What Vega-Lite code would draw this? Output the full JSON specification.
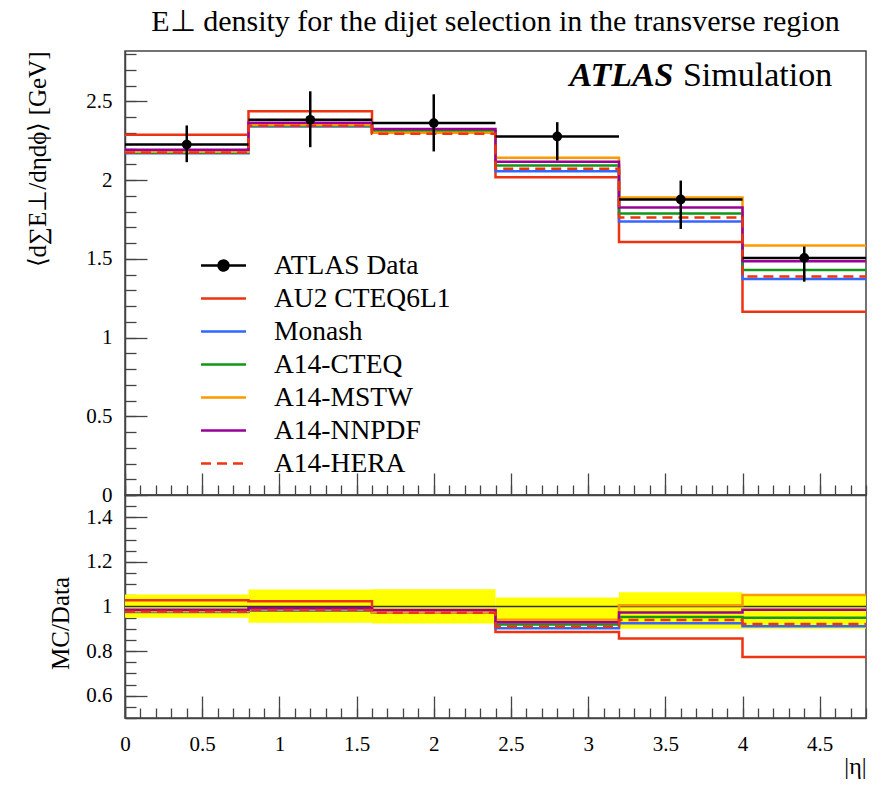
{
  "$schema": "https://vega.github.io/schema/vega-lite/v6.json",
  "background": "white",
  "padding": {"left": 24, "top": 6, "right": 4, "bottom": 0},
  "spacing": 0,
  "bounds": "flush",
  "config": {
    "font": "Liberation Serif",
    "view": {"stroke": "#444", "strokeWidth": 1.5},
    "axis": {
      "domainColor": "#444", "domainWidth": 1.5, "tickColor": "#444", "tickWidth": 1.3,
      "labelFont": "Liberation Serif", "labelFontSize": 21, "labelColor": "black",
      "titleFont": "Liberation Serif", "titleFontWeight": "normal", "titleFontSize": 25, "titleColor": "black",
      "grid": false, "tickCount": 200, "labelOverlap": false
    }
  },
  "datasets": {
    "data": [
      {"bin": 1, "x0": 0.0, "x1": 0.8, "xc": 0.4, "y": 2.226, "lo": 2.114, "hi": 2.347, "rlo": 0.950, "rhi": 1.054},
      {"bin": 2, "x0": 0.8, "x1": 1.6, "xc": 1.2, "y": 2.383, "lo": 2.209, "hi": 2.564, "rlo": 0.927, "rhi": 1.076},
      {"bin": 3, "x0": 1.6, "x1": 2.4, "xc": 2.0, "y": 2.362, "lo": 2.182, "hi": 2.545, "rlo": 0.924, "rhi": 1.077},
      {"bin": 4, "x0": 2.4, "x1": 3.2, "xc": 2.8, "y": 2.277, "lo": 2.125, "hi": 2.368, "rlo": 0.933, "rhi": 1.040},
      {"bin": 5, "x0": 3.2, "x1": 4.0, "xc": 3.6, "y": 1.877, "lo": 1.690, "hi": 1.997, "rlo": 0.900, "rhi": 1.064},
      {"bin": 6, "x0": 4.0, "x1": 4.8, "xc": 4.4, "y": 1.506, "lo": 1.355, "hi": 1.578, "rlo": 0.900, "rhi": 1.048}
    ],
    "mc": [
      {"series": "AU2 CTEQ6L1", "bin": 1, "x0": 0.0, "x1": 0.8, "y": 2.288, "r": 1.028},
      {"series": "AU2 CTEQ6L1", "bin": 2, "x0": 0.8, "x1": 1.6, "y": 2.438, "r": 1.023},
      {"series": "AU2 CTEQ6L1", "bin": 3, "x0": 1.6, "x1": 2.4, "y": 2.300, "r": 0.974},
      {"series": "AU2 CTEQ6L1", "bin": 4, "x0": 2.4, "x1": 3.2, "y": 2.018, "r": 0.886},
      {"series": "AU2 CTEQ6L1", "bin": 5, "x0": 3.2, "x1": 4.0, "y": 1.607, "r": 0.856},
      {"series": "AU2 CTEQ6L1", "bin": 6, "x0": 4.0, "x1": 4.8, "y": 1.164, "r": 0.773},
      {"series": "Monash", "bin": 1, "x0": 0.0, "x1": 0.8, "y": 2.170, "r": 0.975},
      {"series": "Monash", "bin": 2, "x0": 0.8, "x1": 1.6, "y": 2.340, "r": 0.982},
      {"series": "Monash", "bin": 3, "x0": 1.6, "x1": 2.4, "y": 2.300, "r": 0.974},
      {"series": "Monash", "bin": 4, "x0": 2.4, "x1": 3.2, "y": 2.057, "r": 0.903},
      {"series": "Monash", "bin": 5, "x0": 3.2, "x1": 4.0, "y": 1.737, "r": 0.925},
      {"series": "Monash", "bin": 6, "x0": 4.0, "x1": 4.8, "y": 1.372, "r": 0.911},
      {"series": "A14-CTEQ", "bin": 1, "x0": 0.0, "x1": 0.8, "y": 2.175, "r": 0.977},
      {"series": "A14-CTEQ", "bin": 2, "x0": 0.8, "x1": 1.6, "y": 2.345, "r": 0.984},
      {"series": "A14-CTEQ", "bin": 3, "x0": 1.6, "x1": 2.4, "y": 2.310, "r": 0.978},
      {"series": "A14-CTEQ", "bin": 4, "x0": 2.4, "x1": 3.2, "y": 2.093, "r": 0.919},
      {"series": "A14-CTEQ", "bin": 5, "x0": 3.2, "x1": 4.0, "y": 1.788, "r": 0.953},
      {"series": "A14-CTEQ", "bin": 6, "x0": 4.0, "x1": 4.8, "y": 1.429, "r": 0.949},
      {"series": "A14-MSTW", "bin": 1, "x0": 0.0, "x1": 0.8, "y": 2.180, "r": 0.979},
      {"series": "A14-MSTW", "bin": 2, "x0": 0.8, "x1": 1.6, "y": 2.350, "r": 0.986},
      {"series": "A14-MSTW", "bin": 3, "x0": 1.6, "x1": 2.4, "y": 2.300, "r": 0.974},
      {"series": "A14-MSTW", "bin": 4, "x0": 2.4, "x1": 3.2, "y": 2.142, "r": 0.941},
      {"series": "A14-MSTW", "bin": 5, "x0": 3.2, "x1": 4.0, "y": 1.889, "r": 1.006},
      {"series": "A14-MSTW", "bin": 6, "x0": 4.0, "x1": 4.8, "y": 1.584, "r": 1.052},
      {"series": "A14-NNPDF", "bin": 1, "x0": 0.0, "x1": 0.8, "y": 2.193, "r": 0.985},
      {"series": "A14-NNPDF", "bin": 2, "x0": 0.8, "x1": 1.6, "y": 2.364, "r": 0.992},
      {"series": "A14-NNPDF", "bin": 3, "x0": 1.6, "x1": 2.4, "y": 2.325, "r": 0.984},
      {"series": "A14-NNPDF", "bin": 4, "x0": 2.4, "x1": 3.2, "y": 2.116, "r": 0.929},
      {"series": "A14-NNPDF", "bin": 5, "x0": 3.2, "x1": 4.0, "y": 1.826, "r": 0.973},
      {"series": "A14-NNPDF", "bin": 6, "x0": 4.0, "x1": 4.8, "y": 1.484, "r": 0.985},
      {"series": "A14-HERA", "bin": 1, "x0": 0.0, "x1": 0.8, "y": 2.175, "r": 0.977},
      {"series": "A14-HERA", "bin": 2, "x0": 0.8, "x1": 1.6, "y": 2.345, "r": 0.984},
      {"series": "A14-HERA", "bin": 3, "x0": 1.6, "x1": 2.4, "y": 2.295, "r": 0.972},
      {"series": "A14-HERA", "bin": 4, "x0": 2.4, "x1": 3.2, "y": 2.072, "r": 0.910},
      {"series": "A14-HERA", "bin": 5, "x0": 3.2, "x1": 4.0, "y": 1.762, "r": 0.939},
      {"series": "A14-HERA", "bin": 6, "x0": 4.0, "x1": 4.8, "y": 1.387, "r": 0.921}
    ]
  },
  "resolve": {"scale": {"color": "independent"}, "legend": {"color": "independent"}},
  "vconcat": [
    {
      "title": {"text": "E⊥ density for the dijet selection in the transverse region", "anchor": "middle", "fontSize": 30, "fontWeight": "normal", "font": "Liberation Serif", "color": "black", "offset": 14},
      "width": 741,
      "height": 444,
      "resolve": {"axis": {"x": "independent", "y": "independent"}},
      "layer": [
        {
          "data": {"name": "mc"},
          "transform": [{"fold": ["x0", "x1"], "as": ["edge", "x"]}],
          "mark": {"type": "line", "strokeWidth": 2.5},
          "encoding": {
            "x": {
              "field": "x", "type": "quantitative",
              "scale": {"domain": [0, 4.8], "nice": false, "zero": false},
              "axis": {
                "orient": "bottom",
                "values": [0, 0.5, 1, 1.5, 2, 2.5, 3, 3.5, 4, 4.5],
                "labels": false, "title": null, "tickSize": -22
              }
            },
            "y": {
              "field": "y", "type": "quantitative",
              "scale": {"domain": [0, 2.82], "nice": false},
              "title": "⟨d∑E⊥/dηdϕ⟩ [GeV]",
              "axis": {
                "orient": "left",
                "values": [0, 0.5, 1, 1.5, 2, 2.5],
                "format": "~g",
                "tickSize": -22,
                "labelPadding": 35,
                "titleAnchor": "end",
                "titlePadding": 35
              }
            },
            "color": {
              "field": "series", "type": "nominal",
              "scale": {
                "domain": ["ATLAS Data", "AU2 CTEQ6L1", "Monash", "A14-CTEQ", "A14-MSTW", "A14-NNPDF", "A14-HERA"],
                "range": ["black", "#ee3311", "#3366ff", "#109618", "#ff9900", "#990099", "#ee3311"]
              },
              "legend": {
                "title": null, "orient": "none", "legendX": 82, "legendY": 198, "padding": 0,
                "symbolType": "M-1.5,0L1.5,0", "symbolSize": 900, "symbolStrokeWidth": 2.5,
                "labelFont": "Liberation Serif", "labelFontSize": 27.5, "labelColor": "black", "labelOffset": 34,
                "rowPadding": 3, "labelLimit": 400,
                "encoding": {
                  "symbols": {
                    "shape": {"condition": {"test": "datum.value === 'ATLAS Data'", "value": "M-1.5,0L1.5,0M0.33,0A0.33,0.33,0,1,1,-0.33,0A0.33,0.33,0,1,1,0.33,0"}, "value": "M-1.5,0L1.5,0"},
                    "fill": {"condition": {"test": "datum.value === 'ATLAS Data'", "value": "black"}, "value": "transparent"},
                    "strokeDash": {"condition": {"test": "datum.value === 'A14-HERA'", "value": [10, 6]}, "value": [1, 0]}
                  }
                }
              }
            },
            "strokeDash": {"condition": {"test": "datum.series === 'A14-HERA'", "value": [10, 6]}, "value": [1, 0]},
            "order": [{"field": "bin", "type": "quantitative"}, {"field": "edge"}]
          }
        },
        {
          "data": {"name": "data"},
          "mark": {"type": "rule", "strokeWidth": 2.5, "color": "black"},
          "encoding": {
            "x": {
              "field": "x0", "type": "quantitative",
              "axis": {
                "orient": "bottom",
                "values": [0,0.1,0.2,0.3,0.4,0.5,0.6,0.7,0.8,0.9,1,1.1,1.2,1.3,1.4,1.5,1.6,1.7,1.8,1.9,2,2.1,2.2,2.3,2.4,2.5,2.6,2.7,2.8,2.9,3,3.1,3.2,3.3,3.4,3.5,3.6,3.7,3.8,3.9,4,4.1,4.2,4.3,4.4,4.5,4.6,4.7,4.8],
                "labels": false, "title": null, "tickSize": -10, "domain": false
              }
            },
            "x2": {"field": "x1"},
            "y": {
              "field": "y", "type": "quantitative",
              "axis": {
                "orient": "left",
                "values": [0,0.1,0.2,0.3,0.4,0.5,0.6,0.7,0.8,0.9,1,1.1,1.2,1.3,1.4,1.5,1.6,1.7,1.8,1.9,2,2.1,2.2,2.3,2.4,2.5,2.6,2.7,2.8],
                "labels": false, "title": null, "tickSize": -11, "domain": false
              }
            }
          }
        },
        {
          "data": {"name": "data"},
          "mark": {"type": "rule", "strokeWidth": 2.5, "color": "black"},
          "encoding": {
            "x": {"field": "xc", "type": "quantitative", "axis": null},
            "y": {"field": "lo", "type": "quantitative", "axis": null},
            "y2": {"field": "hi"}
          }
        },
        {
          "data": {"name": "data"},
          "mark": {"type": "point", "filled": true, "size": 95, "color": "black", "opacity": 1},
          "encoding": {
            "x": {"field": "xc", "type": "quantitative", "axis": null},
            "y": {"field": "y", "type": "quantitative", "axis": null}
          }
        },
        {
          "data": {"values": [{}]},
          "mark": {"type": "text", "align": "left", "baseline": "alphabetic", "fontSize": 34, "fontStyle": "italic", "fontWeight": "bold", "font": "Liberation Serif", "color": "black"},
          "encoding": {
            "x": {"datum": 2.88, "axis": null},
            "y": {"datum": 2.6, "axis": null},
            "text": {"value": "ATLAS"}
          }
        },
        {
          "data": {"values": [{}]},
          "mark": {"type": "text", "align": "left", "baseline": "alphabetic", "fontSize": 34, "font": "Liberation Serif", "color": "black"},
          "encoding": {
            "x": {"datum": 3.614, "axis": null},
            "y": {"datum": 2.6, "axis": null},
            "text": {"value": "Simulation"}
          }
        }
      ]
    },
    {
      "width": 741,
      "height": 223,
      "resolve": {"axis": {"x": "independent", "y": "independent"}},
      "layer": [
        {
          "data": {"name": "data"},
          "mark": {"type": "rect", "color": "#ffff00", "opacity": 1},
          "encoding": {
            "x": {
              "field": "x0", "type": "quantitative",
              "scale": {"domain": [0, 4.8], "nice": false, "zero": false},
              "title": "|η|",
              "axis": {
                "orient": "bottom",
                "values": [0, 0.5, 1, 1.5, 2, 2.5, 3, 3.5, 4, 4.5],
                "format": "~g",
                "tickSize": -22,
                "labelPadding": 37,
                "labelFlush": false,
                "titleAnchor": "end",
                "titleAlign": "right",
                "titleFontSize": 24,
                "titlePadding": 0
              }
            },
            "x2": {"field": "x1"},
            "y": {
              "field": "rlo", "type": "quantitative",
              "scale": {"domain": [0.5, 1.5], "nice": false, "zero": false},
              "title": "MC/Data",
              "axis": {
                "orient": "left",
                "values": [0.6, 0.8, 1, 1.2, 1.4],
                "format": "~g",
                "tickSize": -22,
                "labelPadding": 35,
                "titlePadding": 12,
                "titleY": 128
              }
            },
            "y2": {"field": "rhi"}
          }
        },
        {
          "data": {"values": [{}]},
          "mark": {"type": "rule", "color": "#333", "strokeWidth": 1.5},
          "encoding": {"y": {"datum": 1, "axis": null}}
        },
        {
          "data": {"name": "mc"},
          "transform": [{"fold": ["x0", "x1"], "as": ["edge", "x"]}],
          "mark": {"type": "line", "strokeWidth": 2.5},
          "encoding": {
            "x": {
              "field": "x", "type": "quantitative",
              "axis": {
                "orient": "bottom",
                "values": [0,0.1,0.2,0.3,0.4,0.5,0.6,0.7,0.8,0.9,1,1.1,1.2,1.3,1.4,1.5,1.6,1.7,1.8,1.9,2,2.1,2.2,2.3,2.4,2.5,2.6,2.7,2.8,2.9,3,3.1,3.2,3.3,3.4,3.5,3.6,3.7,3.8,3.9,4,4.1,4.2,4.3,4.4,4.5,4.6,4.7,4.8],
                "labels": false, "title": null, "tickSize": -10, "domain": false
              }
            },
            "y": {
              "field": "r", "type": "quantitative",
              "axis": {
                "orient": "left",
                "values": [0.5,0.55,0.6,0.65,0.7,0.75,0.8,0.85,0.9,0.95,1,1.05,1.1,1.15,1.2,1.25,1.3,1.35,1.4,1.45,1.5],
                "labels": false, "title": null, "tickSize": -11, "domain": false
              }
            },
            "color": {
              "field": "series", "type": "nominal",
              "scale": {
                "domain": ["ATLAS Data", "AU2 CTEQ6L1", "Monash", "A14-CTEQ", "A14-MSTW", "A14-NNPDF", "A14-HERA"],
                "range": ["black", "#ee3311", "#3366ff", "#109618", "#ff9900", "#990099", "#ee3311"]
              },
              "legend": null
            },
            "strokeDash": {"condition": {"test": "datum.series === 'A14-HERA'", "value": [10, 6]}, "value": [1, 0]},
            "order": [{"field": "bin", "type": "quantitative"}, {"field": "edge"}]
          }
        }
      ]
    }
  ]
}
